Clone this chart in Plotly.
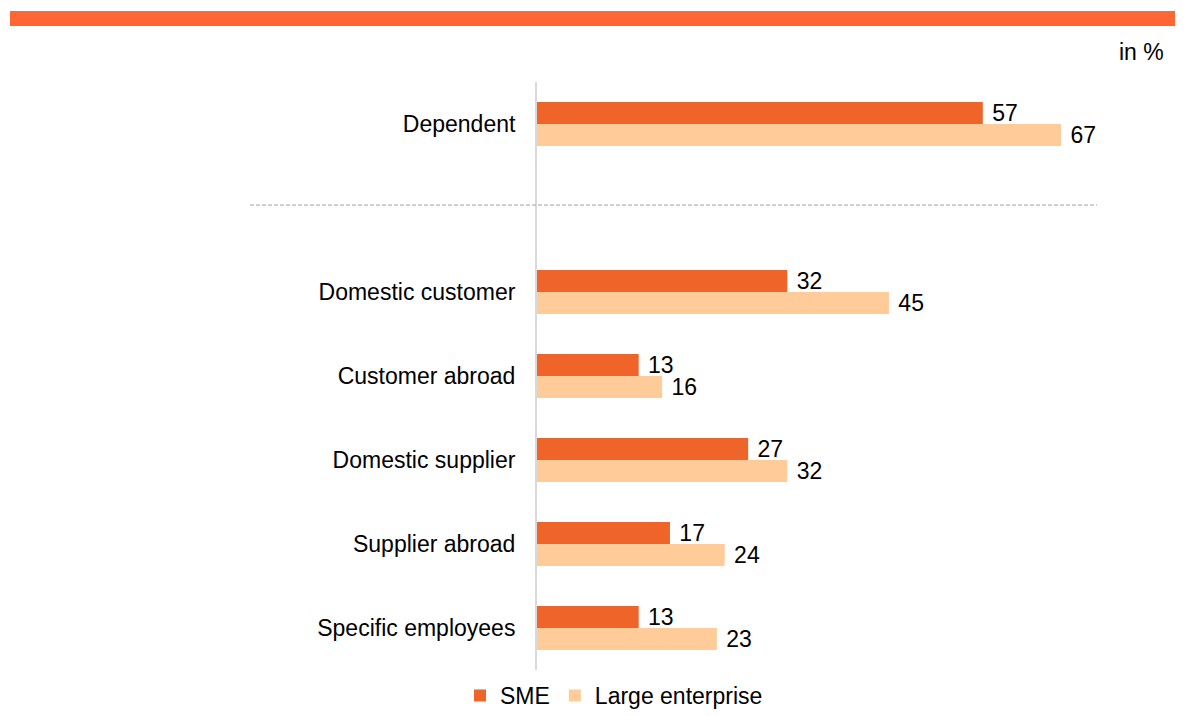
import plotly.graph_objects as go

categories = ["Dependent", "Domestic customer", "Customer abroad", "Domestic supplier", "Supplier abroad", "Specific employees"]
slots = [0, 2, 3, 4, 5, 6]
sme = [57, 32, 13, 27, 17, 13]
large = [67, 45, 16, 32, 24, 23]

W, H = 1190, 716
L, R, T, B = 537, 1097, 82, 670
pw, ph = R - L, B - T

def px_x(x):
    return (x - L) / pw

def px_y(y):
    return (B - y) / ph

FONT = "Liberation Sans, Arial, sans-serif"
FS = 23
C_SME = "#EF6428"
C_LARGE = "#FFCC99"
bw = 0.262

fig = go.Figure()
fig.add_trace(go.Bar(
    y=slots, x=sme, orientation="h", name="SME", marker=dict(color=C_SME, line=dict(width=0)),
    width=bw, offset=-bw, text=[f" {v}" for v in sme], textposition="outside", constraintext="none",
    textfont=dict(size=FS, color="#000000", family=FONT), cliponaxis=False,
))
fig.add_trace(go.Bar(
    y=slots, x=large, orientation="h", name="Large enterprise", marker=dict(color=C_LARGE, line=dict(width=0)),
    width=bw, offset=0, text=[f" {v}" for v in large], textposition="outside", constraintext="none",
    textfont=dict(size=FS, color="#000000", family=FONT), cliponaxis=False,
))

fig.update_layout(
    width=W, height=H,
    margin=dict(l=L, r=W - R, t=T, b=H - B, pad=0, autoexpand=False),
    paper_bgcolor="white", plot_bgcolor="white",
    font=dict(family=FONT, size=FS, color="#000000"),
    barmode="overlay",
    showlegend=True,
    legend=dict(orientation="h", x=px_x(614), xanchor="center", y=px_y(717), yanchor="bottom",
                font=dict(size=FS, family=FONT, color="#000000"), itemwidth=30, traceorder="normal",
                bgcolor="rgba(0,0,0,0)", borderwidth=0),
    xaxis=dict(range=[0, (R - L) / ((1061 - L) / 67)], showgrid=False, zeroline=False,
               showticklabels=False, showline=False, fixedrange=True),
    yaxis=dict(range=[6.5, -0.5], tickvals=slots, ticktext=categories, showgrid=False,
               zeroline=False, showline=True, linecolor="#D9D9D9", linewidth=2, ticks="",
               ticklabelstandoff=15, tickfont=dict(size=FS, family=FONT, color="#000000")),
    shapes=[
        dict(type="rect", xref="paper", yref="paper", x0=px_x(10), x1=px_x(1175), y0=px_y(26), y1=px_y(11),
             fillcolor="#FF6633", line=dict(width=0), layer="above"),
        dict(type="line", xref="paper", yref="y", x0=px_x(250), x1=1.0, y0=0.965, y1=0.965,
             line=dict(color="#A0A0A0", width=1, dash="4px,2px")),
    ],
    annotations=[
        dict(text="in %", xref="paper", yref="paper", x=px_x(1166), y=px_y(52), xanchor="right", yanchor="middle",
             showarrow=False, font=dict(size=FS, family=FONT, color="#000000")),
    ],
)

fig.write_html("out.html")
